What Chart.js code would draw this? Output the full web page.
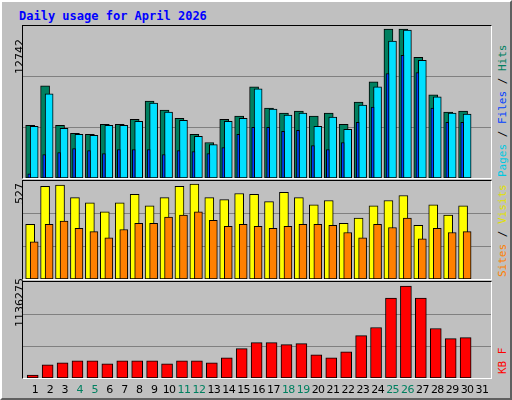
<!DOCTYPE html>
<html>
<head>
<meta charset="utf-8">
<script src="https://cdn.jsdelivr.net/npm/chart.js@4"></script>
<style>
body { margin:0; }
#wrap { position:relative; width:512px; height:400px; background:#c0c0c0; box-sizing:border-box;
        border-top:2px solid #fff; border-left:2px solid #fff; border-right:2px solid #606060; border-bottom:2px solid #606060; }
.panel { position:absolute; left:20px; width:470px; border:1px solid #000; border-right-color:#fff; border-bottom-color:#fff; box-sizing:border-box; }
.panel canvas { position:absolute; left:0; top:0; }
.t { position:absolute; white-space:nowrap; }
.rot { transform-origin:0 0; transform:rotate(-90deg); }
#title { left:17px; top:7px; font:bold 12px "DejaVu Sans Mono", monospace; color:#0000ff; }
.lab { font:11px "DejaVu Sans", sans-serif; color:#000; }
.rlab { font:11px "DejaVu Sans Mono", monospace; }
.day { position:absolute; top:381px; width:20px; text-align:center; font:11px "DejaVu Sans", sans-serif; letter-spacing:-0.6px; }
</style>
</head>
<body>
<div id="wrap">
  <div id="title" class="t">Daily usage for April 2026</div>
  <div class="panel" style="top:23px;height:154px"><canvas id="c1"></canvas></div>
  <div class="panel" style="top:178px;height:100px"><canvas id="c2"></canvas></div>
  <div class="panel" style="top:279px;height:98px"><canvas id="c3"></canvas></div>
  <div class="t lab rot" style="left:11px;top:72px">12742</div>
  <div class="t lab rot" style="left:11px;top:202px">527</div>
  <div class="t lab rot" style="left:11px;top:325px">1136275</div>
  <div class="t rlab rot" style="left:494px;top:175px"><span style="color:#00c8e0">Pages</span> / <span style="color:#0040ff">Files</span> / <span style="color:#008060">Hits</span></div>
  <div class="t rlab rot" style="left:494px;top:275px"><span style="color:#ff8000">Sites</span> / <span style="color:#e0e000">Visits</span></div>
  <div class="t rlab rot" style="left:494px;top:372px;color:#ff0000">KB F</div>
  <div id="days"></div>
</div>
<script>
// data
const days = [];
for (let i = 1; i <= 31; i++) days.push(i);
const weekendDays = [4, 5, 11, 12, 18, 19, 25, 26];

const hits = [4417,7730,4417,3738,3653,4502,4502,4927,6456,5691,5012,3653,2973,4927,5182,7645,5861,5437,5606,5182,5437,4502,6371,8070,12487,12487,10109,6966,5522,5606,0];
const files = [4332,7051,4163,3653,3568,4417,4417,4757,6286,5522,4842,3483,2803,4757,5012,7476,5777,5267,5437,4332,5097,4078,6116,7645,11468,12402,9854,6796,5437,5352,0];
const pages = [340,1954,2124,2464,2294,2039,2379,2379,2379,1954,2294,2209,2039,2549,3653,4247,4247,3908,3993,2719,2379,2973,4672,5947,8750,10279,8835,5862,4672,4672,0];
const visits = [294,499,505,438,410,361,410,455,394,438,499,510,438,427,460,455,416,466,438,399,422,300,327,394,422,449,288,399,344,394,0];
const sites = [200,294,311,272,255,222,266,300,300,333,344,361,316,283,294,283,272,283,294,294,288,250,222,294,277,327,216,272,250,255,0];
const kbytes = [35883,155500,179400,203300,203300,167500,203300,203300,203300,167500,203300,203300,179400,239200,346900,418600,418600,394700,406700,275100,239200,311000,502400,598100,944900,1088500,944900,586100,466500,478400,0];

const maxHits = 12742, maxVisits = 527, maxKB = 1136275;

// day labels under the chart
const dayBox = document.getElementById('days');
days.forEach(function(d) {
    const el = document.createElement('div');
    el.className = 'day';
    el.textContent = d;
    el.style.left = (33 + (d - 1) * 14.9 - 10) + 'px';
    el.style.color = weekendDays.includes(d) ? '#008060' : '#000';
    dayBox.appendChild(el);
});

function pts(arr, shift) {
    return arr.map(function(v, i) { return {x: days[i] + shift, y: v}; });
}

function makeChart(id, w, h, max, datasets) {
    const cv = document.getElementById(id);
    cv.width = w; cv.height = h;
    cv.style.width = w + 'px'; cv.style.height = h + 'px';
    return new Chart(cv.getContext('2d'), {
        type: 'bar',
        data: { datasets: datasets },
        options: {
            responsive: false,
            animation: false,
            layout: { padding: 0 },
            plugins: { legend: { display: false }, tooltip: { enabled: false } },
            scales: {
                x: { type: 'linear', min: 0.25, max: 31.6, offset: false, display: false },
                y: { min: 0, max: max, afterBuildTicks: function(ax) {
                        ax.ticks = [{value: max / 3}, {value: max * 2 / 3}];
                     },
                     border: { display: false },
                     grid: { color: '#808080', lineWidth: 1, drawTicks: false },
                     ticks: { display: false } }
            }
        }
    });
}

function ds(arr, shift, color, thick) {
    return { data: pts(arr, shift), backgroundColor: color, borderColor: '#000', borderWidth: 1,
             barThickness: thick, grouped: false, borderSkipped: false };
}

makeChart('c1', 468, 152, maxHits, [
    ds(pages, -0.33, '#0040ff', 3),
    ds(files, 0.0, '#00e0ff', 8),
    ds(hits, -0.27, '#008060', 9)
]);
makeChart('c2', 468, 98, maxVisits, [
    ds(sites, 0.0, '#ff8000', 8),
    ds(visits, -0.27, '#ffff00', 9)
]);
makeChart('c3', 468, 96, maxKB, [
    ds(kbytes, -0.1, '#ff0000', 11)
]);
</script>
</body>
</html>
